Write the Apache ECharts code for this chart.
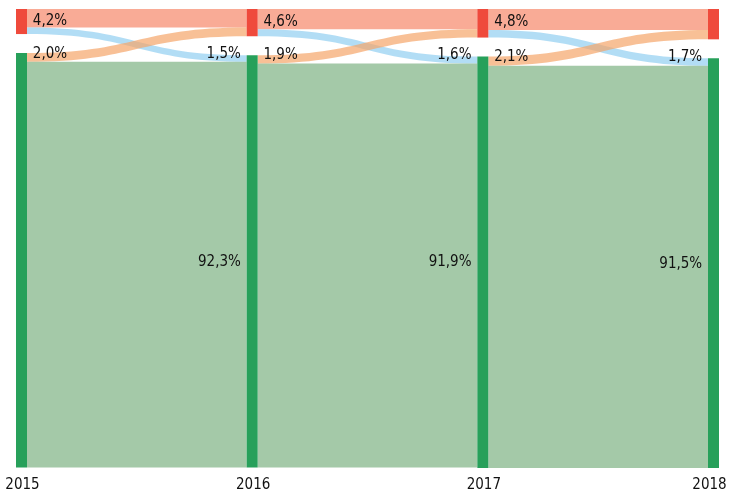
<!DOCTYPE html>
<html>
<head>
<meta charset="utf-8">
<script src="https://cdn.jsdelivr.net/npm/echarts@6/dist/echarts.min.js"></script>
<style>html,body{margin:0;padding:0;background:#fff}#c{width:729px;height:492px}</style>
</head>
<body>
<div id="c"></div>
<script>
const years = ['2015', '2016', '2017', '2018'];
const redStay = [4.2, 4.6, 4.8];
const redToGreen = [1.5, 1.6, 1.7];
const greenToRed = [2.0, 1.9, 2.1];
const greenStay = [92.3, 91.9, 91.5];

const FONT = '"DejaVu Sans Condensed", sans-serif';
const FS = 15;
const fmt = v => v.toFixed(1).replace('.', ',') + '%';

const nodes = [];
years.forEach((y, i) => {
  const last = i === years.length - 1;
  nodes.push({name: y + ' r', itemStyle: {color: '#ef4a3c'}, label: {show: false}});
  nodes.push({name: y + ' g', itemStyle: {color: '#27a05a'},
    label: {show: true, position: 'bottom', distance: 10, fontSize: 15,
      offset: [last ? -4 : 1, 0], formatter: y}});
});

const HALF = 104; // half link span minus padding
const links = [];
for (let i = 0; i < years.length - 1; i++) {
  const a = years[i], b = years[i + 1];
  links.push({source: a + ' r', target: b + ' r', value: redStay[i],
    lineStyle: {color: '#f6876a', opacity: 0.7},
    edgeLabel: {align: 'left', offset: [-HALF, 3]}});
  links.push({source: a + ' r', target: b + ' g', value: redToGreen[i],
    lineStyle: {color: '#91cef1', opacity: 0.7},
    edgeLabel: {align: 'right', offset: [HALF, 9]}});
  links.push({source: a + ' g', target: b + ' r', value: greenToRed[i],
    lineStyle: {color: '#f5a569', opacity: 0.7},
    edgeLabel: {align: 'left', offset: [-HALF, 9]}});
  links.push({source: a + ' g', target: b + ' g', value: greenStay[i],
    lineStyle: {color: '#7eb283', opacity: 0.7},
    edgeLabel: {align: 'right', offset: [HALF, -3]}});
}

const chart = echarts.init(document.getElementById('c'));
chart.setOption({
  animation: false,
  series: [{
    type: 'sankey',
    left: 16, right: 10, top: 9, bottom: 24,
    nodeWidth: 11,
    nodeGap: 19,
    layoutIterations: 0,
    draggable: false,
    emphasis: {disabled: true},
    data: nodes,
    links: links,
    label: {fontFamily: FONT, fontSize: FS, color: '#111'},
    edgeLabel: {show: true, fontFamily: FONT, fontSize: FS, color: '#111',
      formatter: p => fmt(p.value)},
    lineStyle: {curveness: 0.5}
  }]
});
</script>
</body>
</html>
